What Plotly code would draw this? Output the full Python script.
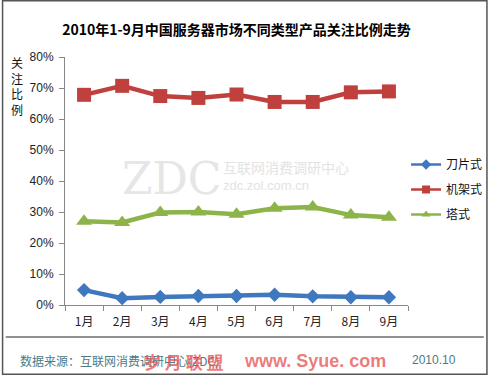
import plotly.graph_objects as go

months = ["1月", "2月", "3月", "4月", "5月", "6月", "7月", "8月", "9月"]
blade = [0.048, 0.022, 0.026, 0.029, 0.029, 0.033, 0.028, 0.025, 0.025]
rack = [0.678, 0.707, 0.674, 0.668, 0.679, 0.655, 0.655, 0.686, 0.689]
tower = [0.270, 0.266, 0.298, 0.300, 0.293, 0.312, 0.316, 0.290, 0.283]
names = ["刀片式", "机架式", "塔式"]
colors = ["#3F78BF", "#C0403D", "#8DB449"]
symbols = ["diamond", "square", "triangle-up"]
msizes = [11, 14, 14]

W, H = 500, 375
L, R, T, B = 65, 82, 57, 70
pw, ph = W - L - R, H - T - B
def px(x):
    return (x - L) / pw
def py(y):
    return (H - B - y) / ph

font = "Liberation Sans, Noto Sans CJK SC, sans-serif"
cjk = "Noto Sans CJK SC, sans-serif"

fig = go.Figure()
for i, vals in enumerate([blade, rack, tower]):
    fig.add_trace(go.Scatter(
        x=months, y=vals, name=names[i], mode="lines+markers",
        showlegend=False,
        line=dict(color=colors[i], width=4.5),
        marker=dict(symbol=symbols[i], size=msizes[i], color=colors[i]),
    ))
# legend entries with smaller symbols, like the original
for i in range(3):
    fig.add_trace(go.Scatter(
        x=[months[0]], y=[None], name=names[i], mode="lines+markers",
        legendgroup=names[i],
        line=dict(color=colors[i], width=2.5),
        marker=dict(symbol=symbols[i], size=8, color=colors[i]),
    ))

fig.update_layout(
    width=W, height=H,
    margin=dict(l=L, r=R, t=T, b=B),
    paper_bgcolor="white", plot_bgcolor="white",
    font=dict(family=font, size=12, color="#222"),
    showlegend=True,
    legend=dict(x=px(416), y=py(150), xanchor="left", yanchor="top",
                font=dict(family=cjk, size=12, color="#111"),
                tracegroupgap=6, itemwidth=30, bgcolor="rgba(0,0,0,0)"),
    title=dict(text="<b>2010年1-9月中国服务器市场不同类型产品关注比例走势</b>",
               x=0.5, xref="paper", xanchor="center", y=1 - 30 / H, yanchor="middle",
               font=dict(family=cjk, size=14, color="#000")),
    xaxis=dict(type="category", showline=True, linecolor="#888", linewidth=1,
               ticks="outside", tickson="boundaries", ticklen=5, tickcolor="#888",
               showgrid=False, tickfont=dict(family=cjk, size=12, color="#222"),
               ticklabelstandoff=6, range=[-0.5, 8.5]),
    yaxis=dict(range=[0, 0.8], dtick=0.1, tickformat=".0%", showline=True,
               linecolor="#888", linewidth=1, ticks="outside", ticklen=5,
               tickcolor="#888", showgrid=False, zeroline=False,
               ticklabelstandoff=3,
               tickfont=dict(family=font, size=12, color="#222")),
)

anns = [
    dict(text="关<br>注<br>比<br>例", x=px(16), y=py(52), xanchor="center", yanchor="top",
         font=dict(family=cjk, size=12, color="#111")),
    dict(text="数据来源：互联网消费调研中心(ZDC)", x=px(17), y=py(360), xanchor="left", yanchor="middle",
         font=dict(family=cjk, size=12, color="#4D7A86")),
    dict(text="2010.10", x=px(445), y=py(360), xanchor="center", yanchor="middle",
         font=dict(family=font, size=12, color="#4D7A86")),
    dict(text="ZDC", x=px(175), y=py(178), xanchor="center", yanchor="middle",
         font=dict(family="DejaVu Serif, serif", size=44, color="#E6E6E6")),
    dict(text="互联网消费调研中心", x=px(226), y=py(167), xanchor="left", yanchor="middle",
         font=dict(family=cjk, size=14, color="#E3E3E3")),
    dict(text="zdc.zol.com.cn", x=px(226), y=py(185), xanchor="left", yanchor="middle",
         font=dict(family=font, size=13, color="#E3E3E3")),
    dict(text="<b>岁 月 联 盟</b>", x=px(144), y=py(361), xanchor="left", yanchor="middle",
         font=dict(family=cjk, size=17, color="rgba(230,80,80,0.75)")),
    dict(text="<b>www. Syue. com</b>", x=px(247), y=py(361), xanchor="left", yanchor="middle",
         font=dict(family=font, size=18, color="rgba(230,80,80,0.75)")),
]
for a in anns:
    a.update(xref="paper", yref="paper", showarrow=False)
    fig.add_annotation(**a)

fig.add_shape(type="line", xref="paper", yref="paper", x0=px(4), x1=px(496),
              y0=py(337), y1=py(337), line=dict(color="#222", width=1))
fig.add_shape(type="rect", xref="paper", yref="paper", x0=px(0.75), x1=px(499.25),
              y0=py(0.75), y1=py(374.25), line=dict(color="#555", width=1.5))

fig.write_html("out.html", config={"displayModeBar": False},
               post_script="document.body.style.margin='0';document.body.style.overflow='hidden';")
